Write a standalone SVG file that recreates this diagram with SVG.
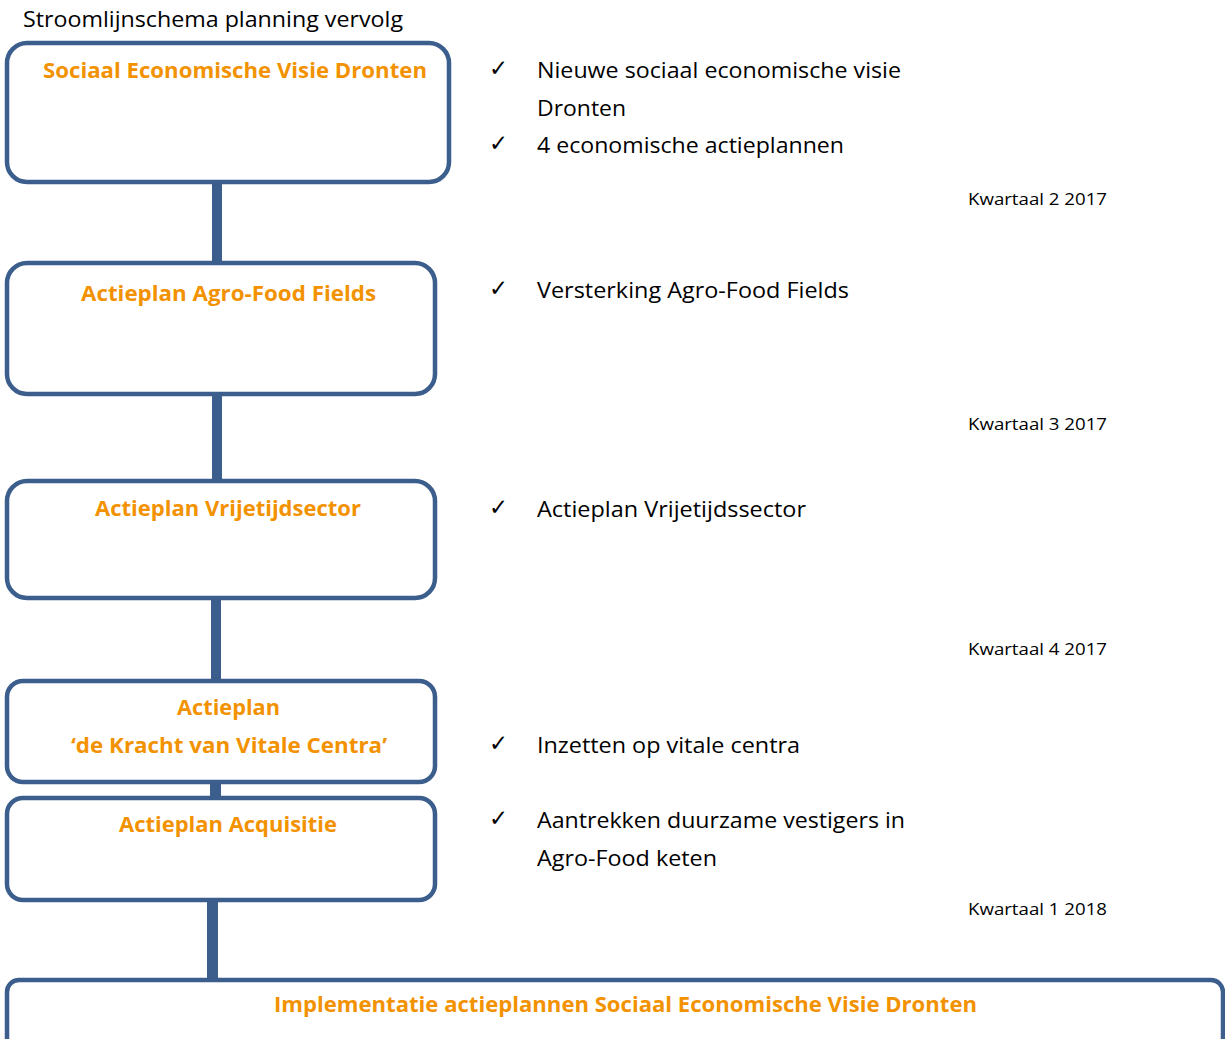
<svg xmlns="http://www.w3.org/2000/svg" width="1225" height="1039" viewBox="0 0 1225 1039">
<style>
.box{fill:#fff;stroke:#3B5E8C;stroke-width:4.5}
.conn{fill:#3B5E8C}
.t{font-family:"Open Sans","Noto Sans",sans-serif;font-size:22px;fill:#000}
.h{font-family:"Open Sans","Noto Sans",sans-serif;font-size:21px;font-weight:bold;fill:#F39200}
.k{font-family:"Open Sans","Noto Sans",sans-serif;font-size:17px;fill:#000}
.c{font-family:"DejaVu Sans",sans-serif;font-size:23px;font-weight:bold;fill:#000}
</style>
<rect width="1225" height="1039" fill="#fff"/>
<text class="t" x="23" y="27" textLength="380" lengthAdjust="spacingAndGlyphs">Stroomlijnschema planning vervolg</text>
<g id="connectors">
<rect class="conn" x="212" y="182" width="10" height="82"/>
<rect class="conn" x="212" y="394" width="10" height="88"/>
<rect class="conn" x="211" y="598" width="10" height="84"/>
<rect class="conn" x="210" y="782" width="11" height="17"/>
<rect class="conn" x="207" y="900" width="11" height="81"/>
</g>
<g id="node1">
<rect class="box" x="7" y="43" width="442" height="139" rx="20"/>
<text class="h" x="43" y="78" textLength="384" lengthAdjust="spacingAndGlyphs">Sociaal Economische Visie Dronten</text>
</g>
<g id="node2">
<rect class="box" x="7" y="263" width="428" height="131" rx="20"/>
<text class="h" x="81" y="301" textLength="295" lengthAdjust="spacingAndGlyphs">Actieplan Agro-Food Fields</text>
</g>
<g id="node3">
<rect class="box" x="7" y="481" width="428" height="117" rx="20"/>
<text class="h" x="95" y="516" textLength="266" lengthAdjust="spacingAndGlyphs">Actieplan Vrijetijdsector</text>
</g>
<g id="node4">
<rect class="box" x="7" y="681" width="428" height="101" rx="16"/>
<text class="h" x="177" y="715" textLength="103" lengthAdjust="spacingAndGlyphs">Actieplan</text>
<text class="h" x="71" y="753" textLength="316" lengthAdjust="spacingAndGlyphs">‘de Kracht van Vitale Centra’</text>
</g>
<g id="node5">
<rect class="box" x="7" y="798" width="428" height="102" rx="16"/>
<text class="h" x="119" y="832" textLength="218" lengthAdjust="spacingAndGlyphs">Actieplan Acquisitie</text>
</g>
<g id="node6">
<rect class="box" x="7" y="980" width="1216" height="90" rx="12"/>
<text class="h" x="274" y="1012" textLength="703" lengthAdjust="spacingAndGlyphs">Implementatie actieplannen Sociaal Economische Visie Dronten</text>
</g>
<g id="notes">
<text class="c" x="489" y="76" textLength="19" lengthAdjust="spacingAndGlyphs">✓</text>
<text class="t" x="537" y="78" textLength="364" lengthAdjust="spacingAndGlyphs">Nieuwe sociaal economische visie</text>
<text class="t" x="537" y="116" textLength="89" lengthAdjust="spacingAndGlyphs">Dronten</text>
<text class="c" x="489" y="151" textLength="19" lengthAdjust="spacingAndGlyphs">✓</text>
<text class="t" x="537" y="153" textLength="307" lengthAdjust="spacingAndGlyphs">4 economische actieplannen</text>
<text class="k" x="968" y="205" textLength="139" lengthAdjust="spacingAndGlyphs">Kwartaal 2 2017</text>
<text class="c" x="489" y="296" textLength="19" lengthAdjust="spacingAndGlyphs">✓</text>
<text class="t" x="537" y="298" textLength="312" lengthAdjust="spacingAndGlyphs">Versterking Agro-Food Fields</text>
<text class="k" x="968" y="430" textLength="139" lengthAdjust="spacingAndGlyphs">Kwartaal 3 2017</text>
<text class="c" x="489" y="515" textLength="19" lengthAdjust="spacingAndGlyphs">✓</text>
<text class="t" x="537" y="517" textLength="269" lengthAdjust="spacingAndGlyphs">Actieplan Vrijetijdssector</text>
<text class="k" x="968" y="655" textLength="139" lengthAdjust="spacingAndGlyphs">Kwartaal 4 2017</text>
<text class="c" x="489" y="751" textLength="19" lengthAdjust="spacingAndGlyphs">✓</text>
<text class="t" x="537" y="753" textLength="263" lengthAdjust="spacingAndGlyphs">Inzetten op vitale centra</text>
<text class="c" x="489" y="826" textLength="19" lengthAdjust="spacingAndGlyphs">✓</text>
<text class="t" x="537" y="828" textLength="368" lengthAdjust="spacingAndGlyphs">Aantrekken duurzame vestigers in</text>
<text class="t" x="537" y="866" textLength="180" lengthAdjust="spacingAndGlyphs">Agro-Food keten</text>
<text class="k" x="968" y="915" textLength="139" lengthAdjust="spacingAndGlyphs">Kwartaal 1 2018</text>
</g>
</svg>
